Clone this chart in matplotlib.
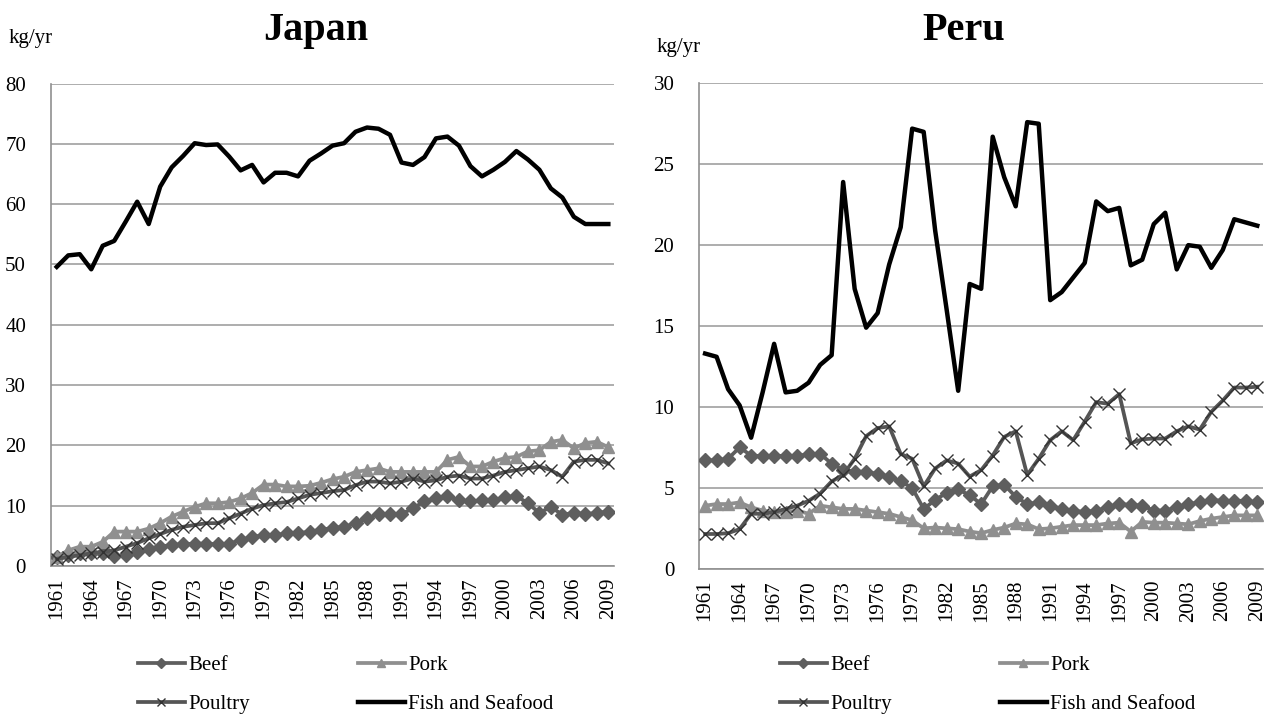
import matplotlib
matplotlib.use("Agg")
import matplotlib.pyplot as plt

plt.rcParams["font.family"] = ["Liberation Serif", "DejaVu Serif"]

years = list(range(1961, 2010))
tick_years = [str(y) for y in range(1961, 2010, 3)]
series_names = ["Beef", "Pork", "Poultry", "Fish and Seafood"]

japan_beef = [1.5, 1.8, 2.1, 2.2, 2.1, 1.6, 1.8, 2.4, 2.9, 3.2,
              3.5, 3.6, 3.7, 3.7, 3.6, 3.7, 4.3, 4.8, 5.1, 5.1,
              5.4, 5.4, 5.7, 6.0, 6.3, 6.5, 7.1, 7.9, 8.6, 8.6,
              8.6, 9.6, 10.7, 11.2, 11.6, 10.9, 10.7, 10.9, 10.9, 11.4,
              11.6, 10.4, 8.8, 9.8, 8.5, 8.8, 8.6, 8.8, 9.0]
japan_pork = [1.5, 2.6, 3.2, 3.2, 4.0, 5.7, 5.7, 5.7, 6.2, 7.1,
              8.2, 9.0, 9.8, 10.4, 10.4, 10.6, 11.2, 12.1, 13.5, 13.5,
              13.2, 13.2, 13.3, 13.8, 14.4, 14.8, 15.6, 15.9, 16.2, 15.6,
              15.6, 15.6, 15.6, 15.6, 17.6, 18.1, 16.5, 16.5, 17.3, 17.9,
              18.1, 19.0, 19.2, 20.6, 20.9, 19.5, 20.4, 20.6, 19.7]
japan_poultry = [1.2, 1.5, 1.8, 2.1, 2.4, 2.6, 3.2, 3.8, 4.6, 5.3,
                 6.0, 6.5, 6.8, 7.1, 7.1, 7.9, 8.7, 9.5, 10.1, 10.4,
                 10.6, 11.2, 11.8, 12.1, 12.4, 12.6, 13.4, 14.0, 14.0, 13.7,
                 14.0, 14.5, 14.0, 14.2, 14.8, 15.0, 14.5, 14.5, 15.0, 15.6,
                 15.9, 16.2, 16.5, 15.9, 14.8, 17.3, 17.6, 17.6, 17.0]
japan_fish = [49.6, 51.5, 51.7, 49.2, 53.1, 53.9, 57.1, 60.4, 56.7, 62.9,
              66.1, 68.0, 70.1, 69.8, 69.9, 67.9, 65.6, 66.5, 63.6, 65.2,
              65.2, 64.6, 67.2, 68.4, 69.7, 70.1, 72.0, 72.7, 72.5, 71.5,
              66.9, 66.5, 67.8, 70.9, 71.2, 69.7, 66.3, 64.6, 65.7, 67.0,
              68.8, 67.4, 65.7, 62.6, 61.1, 57.9, 56.7, 56.7, 56.7]

peru_beef = [6.7, 6.7, 6.8, 7.5, 7.0, 6.95, 7.0, 6.95, 6.95, 7.1,
             7.1, 6.5, 6.1, 6.0, 6.0, 5.85, 5.7, 5.4, 5.0, 3.7,
             4.25, 4.7, 4.9, 4.55, 4.0, 5.1, 5.2, 4.45, 4.0, 4.1,
             3.9, 3.7, 3.6, 3.5, 3.6, 3.8, 4.0, 3.95, 3.9, 3.6,
             3.6, 3.8, 4.0, 4.1, 4.25, 4.2, 4.2, 4.2, 4.1]
peru_pork = [3.9, 4.0, 4.0, 4.1, 3.8, 3.6, 3.5, 3.5, 3.6, 3.4,
             3.9, 3.8, 3.7, 3.7, 3.6, 3.5, 3.4, 3.2, 3.0, 2.5,
             2.55, 2.5, 2.45, 2.3, 2.2, 2.4, 2.55, 2.8, 2.75, 2.45,
             2.5, 2.6, 2.7, 2.7, 2.7, 2.8, 2.85, 2.3, 2.9, 2.85,
             2.85, 2.8, 2.75, 2.95, 3.1, 3.2, 3.3, 3.3, 3.3]
peru_poultry = [2.15, 2.15, 2.2, 2.45, 3.4, 3.4, 3.5, 3.7, 3.9, 4.2,
                4.65, 5.4, 5.8, 6.8, 8.2, 8.7, 8.8, 7.1, 6.8, 5.1,
                6.2, 6.7, 6.5, 5.7, 6.1, 7.0, 8.15, 8.5, 5.8, 6.8,
                7.95, 8.5, 7.95, 9.1, 10.3, 10.2, 10.8, 7.75, 8.0, 8.05,
                8.05, 8.5, 8.8, 8.6, 9.7, 10.4, 11.2, 11.2, 11.25]
peru_fish = [13.3, 13.1, 11.1, 10.1, 8.1, 10.9, 13.9, 10.9, 11.0, 11.5,
             12.6, 13.2, 23.9, 17.3, 14.9, 15.8, 18.8, 21.1, 27.2, 27.0,
             20.9, 16.0, 11.0, 17.6, 17.3, 26.7, 24.2, 22.4, 27.6, 27.5,
             16.6, 17.1, 18.0, 18.9, 22.7, 22.1, 22.3, 18.75, 19.1, 21.3,
             22.0, 18.5, 20.0, 19.9, 18.6, 19.7, 21.6, 21.4, 21.2]

colors = ["#5e5e5e", "#8f8f8f", "#555555", "#000000"]
markers = ["D", "^", "x", None]

fig = plt.figure(figsize=(12.69, 7.15), dpi=100)
ax1 = fig.add_axes([0.0402, 0.2084, 0.4437, 0.6748])
ax2 = fig.add_axes([0.5511, 0.2045, 0.4442, 0.679])


def draw_panel(ax, data, ymax, ystep):
    xs = list(range(len(years)))
    lines = []
    for vals, name, c, m in zip(data, series_names, colors, markers):
        if m is None:
            ln, = ax.plot(xs, vals, color=c, lw=3.2, label=name, zorder=5)
        elif m == "x":
            ln, = ax.plot(xs, vals, color=c, lw=2.7, marker=m, ms=8,
                          mew=1.0, mec="#333333", label=name, zorder=4)
        else:
            ln, = ax.plot(xs, vals, color=c, lw=2.7, marker=m,
                          ms=7 if m == "D" else 8, mec=c, label=name, zorder=3)
        lines.append(ln)
    ax.set_xlim(-0.5, len(years) - 0.5)
    ax.set_ylim(0, ymax)
    ax.set_yticks(range(0, ymax + 1, ystep))
    ax.set_xticks(range(0, len(years), 3))
    ax.set_xticklabels(tick_years, rotation=90)
    ax.tick_params(axis="y", length=0, pad=18, labelsize=15)
    ax.tick_params(axis="x", length=0, pad=8, labelsize=15)
    ax.grid(axis="y", color="#a0a0a0", lw=1.2)
    ax.set_axisbelow(True)
    for s in ["top", "right"]:
        ax.spines[s].set_visible(False)
    for s in ["left", "bottom"]:
        ax.spines[s].set_color("#909090")
        ax.spines[s].set_linewidth(1.2)
    return lines


l1 = draw_panel(ax1, [japan_beef, japan_pork, japan_poultry, japan_fish], 80, 10)
l2 = draw_panel(ax2, [peru_beef, peru_pork, peru_poultry, peru_fish], 30, 5)

fig.text(316 / 1269, 1 - 40 / 715, "Japan", ha="center", va="baseline",
         fontsize=29, fontweight="bold")
fig.text(964 / 1269, 1 - 40 / 715, "Peru", ha="center", va="baseline",
         fontsize=29, fontweight="bold")
fig.text(9 / 1269, 1 - 43 / 715, "kg/yr", ha="left", va="baseline", fontsize=15)
fig.text(657 / 1269, 1 - 52 / 715, "kg/yr", ha="left", va="baseline", fontsize=15)

for lines, x0 in [(l1, 138), (l2, 780)]:
    order = [lines[0], lines[2], lines[1], lines[3]]
    fig.legend(order, [l.get_label() for l in order], ncol=2,
               loc="center left", bbox_to_anchor=(x0 / 1269, 1 - 685 / 715),
               frameon=False, fontsize=15, handlelength=2.25,
               handletextpad=0.15, columnspacing=5.2, labelspacing=0.95,
               borderpad=0, borderaxespad=0, numpoints=1, markerscale=0.8)

fig.savefig("out.png", dpi=100)
